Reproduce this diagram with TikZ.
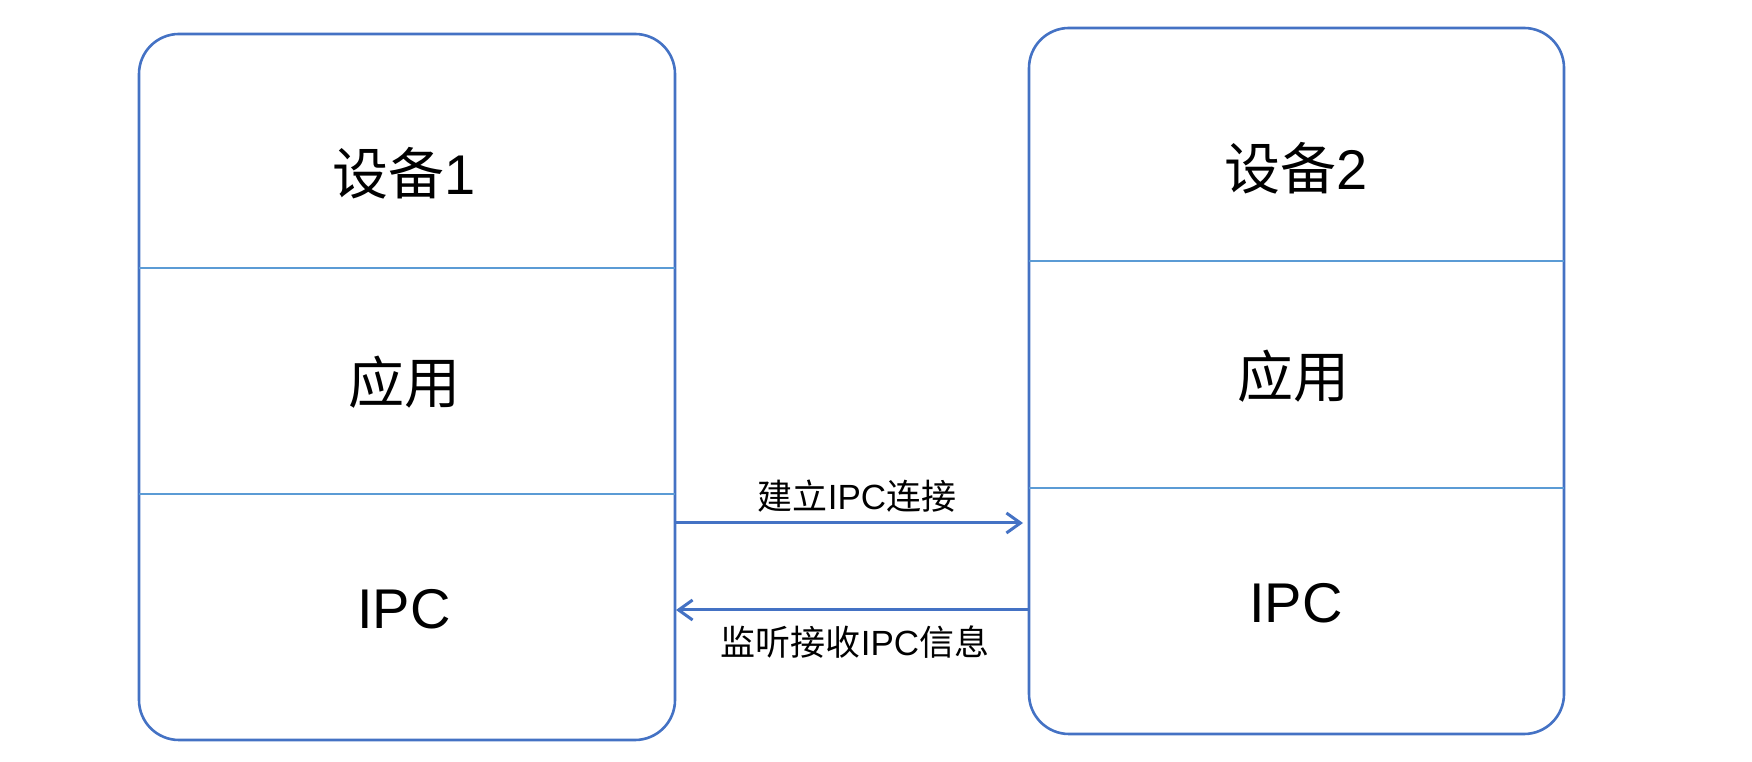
\documentclass[tikz,border=0pt]{standalone}
\usepackage{fontspec}
\setmainfont{Liberation Sans}
\newfontfamily\cjk{Noto Sans CJK SC}
\usetikzlibrary{arrows.meta}
\definecolor{boxblue}{HTML}{4472C4}
\definecolor{divblue}{HTML}{5B9BD5}
\tikzset{
  devbox/.style={draw=boxblue, line width=2.6pt, rounded corners=40pt, rectangle, inner sep=0pt, outer sep=0pt},
  divline/.style={draw=divblue, line width=2pt},
  bigtext/.style={inner sep=0pt, font=\fontsize{56}{64}\selectfont},
  smalltext/.style={inner sep=0pt, font=\fontsize{35}{40}\selectfont},
  arr/.style={draw=boxblue, line width=3pt, -{Straight Barb[length=14pt,width=20pt,line width=3pt]}}
}
\begin{document}
\begin{tikzpicture}[x=1pt,y=1pt]
\useasboundingbox (0,0) rectangle (1752,762);
% boxes
\node[devbox, minimum width=536pt, minimum height=706pt] (box1) at (407,375) {};
\node[devbox, minimum width=535pt, minimum height=706pt] (box2) at (1296.5,381) {};
% divider levels
\coordinate (d1a) at (0,494);
\coordinate (d1b) at (0,268);
\coordinate (d2a) at (0,501);
\coordinate (d2b) at (0,274);
\draw[divline] (box1.west |- d1a) -- (box1.east |- d1a);
\draw[divline] (box1.west |- d1b) -- (box1.east |- d1b);
\draw[divline] (box2.west |- d2a) -- (box2.east |- d2a);
\draw[divline] (box2.west |- d2b) -- (box2.east |- d2b);
% texts
\node[bigtext] (t1a) at (404,589) {{\cjk 设备}1};
\node[bigtext] (t1b) at (404,380) {\cjk 应用};
\node[bigtext] (t1c) at (404,153) {IPC};
\node[bigtext] (t2a) at (1296,594) {{\cjk 设备}2};
\node[bigtext] (t2b) at (1293,386) {\cjk 应用};
\node[bigtext] (t2c) at (1296,159) {IPC};
% arrows
\coordinate (a1) at (0,239);
\coordinate (a2) at (0,152);
\draw[arr] (box1.east |- a1) -- ([xshift=-6pt]box2.west |- a1);
\draw[arr] (box2.west |- a2) -- ([xshift=1pt]box1.east |- a2);
\node[smalltext] (l1) at (857,266) {{\cjk 建立}IPC{\cjk 连接}};
\node[smalltext] (l2) at (855,120) {{\cjk 监听接收}IPC{\cjk 信息}};
\end{tikzpicture}
\end{document}
